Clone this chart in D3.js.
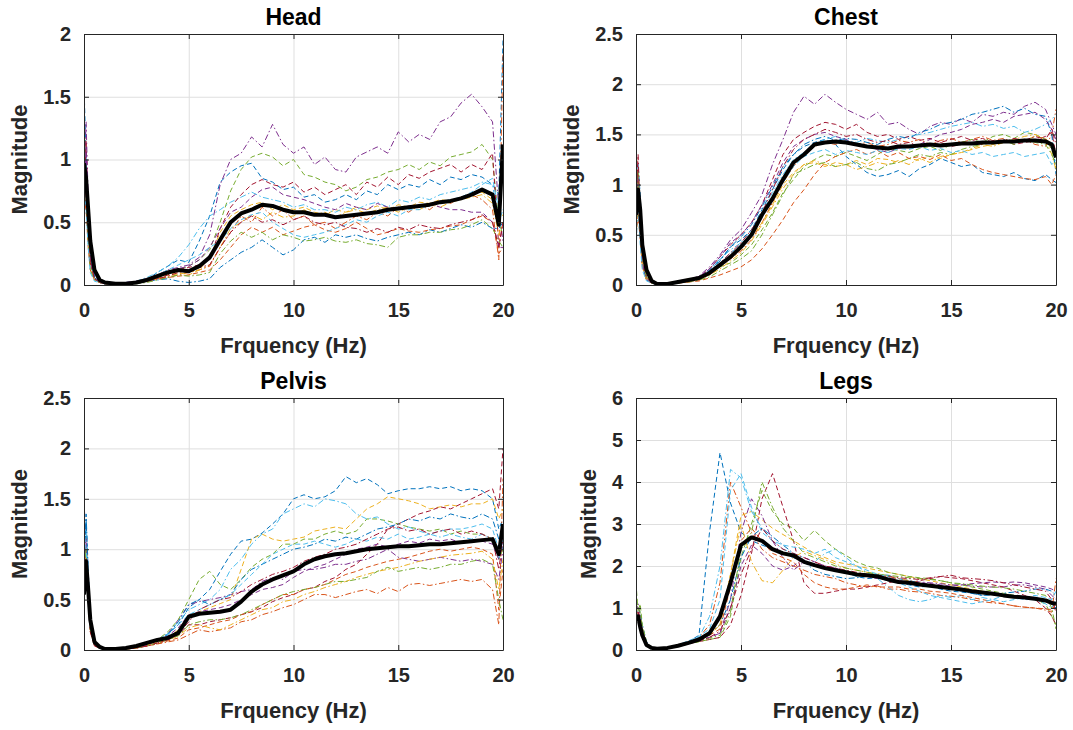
<!DOCTYPE html>
<html>
<head>
<meta charset="utf-8">
<script src="https://cdn.jsdelivr.net/npm/d3@7"></script>
<style>
body { margin: 0; background: #fff; }
svg text { font-family: "Liberation Sans", Arial, Helvetica, sans-serif; }
</style>
</head>
<body>
<div id="chart"></div>
<script>
// frequency grid (Hz), shared by every trace
const freq = [0, 0.1, 0.2, 0.3, 0.5, 0.75, 1, 1.5, 2, 2.5, 3, 3.5, 4, 4.5, 5, 5.5, 6, 6.5, 7, 7.5, 8, 8.5, 9, 9.5,
  10, 10.5, 11, 11.5, 12, 12.5, 13, 13.5, 14, 14.5, 15, 15.5, 16, 16.5, 17, 17.5, 18, 18.5, 19, 19.5, 19.8, 20];

// tick labels
const freqTicks = [0, 5, 10, 15, 20];
const headTicks = [0, 0.5, 1, 1.5, 2];
const chestTicks = [0, 0.5, 1, 1.5, 2, 2.5];
const pelvisTicks = [0, 0.5, 1, 1.5, 2, 2.5];
const legsTicks = [0, 1, 2, 3, 4, 5, 6];

//---------------- Head ----------------
const headMean = [0.97, 0.85, 0.6, 0.35, 0.12, 0.04, 0.02, 0.01, 0.01, 0.02, 0.04, 0.07, 0.1, 0.12, 0.11, 0.15, 0.22, 0.36,
  0.5, 0.57, 0.6, 0.64, 0.63, 0.6, 0.58, 0.58, 0.56, 0.56, 0.54, 0.55, 0.56, 0.57, 0.58, 0.6, 0.61, 0.62,
  0.63, 0.64, 0.66, 0.67, 0.69, 0.72, 0.76, 0.72, 0.48, 1.12];
const headSeries = [
  [1.6, 1.0, 0.5, 0.2, 0.06, 0.02, 0.01, 0.01, 0.02, 0.02, 0.04, 0.1, 0.15, 0.2, 0.18, 0.35, 0.55, 0.82, 0.9, 0.95, 0.97, 0.85, 0.82, 0.76, 0.78, 0.7, 0.72, 0.66, 0.68, 0.72, 0.68, 0.75, 0.72, 0.8, 0.76, 0.8, 0.78, 0.84, 0.8, 0.86, 0.84, 0.88, 0.86, 0.8, 0.72, 1.95],
  [0.5, 0.7, 0.4, 0.15, 0.04, 0.02, 0.01, 0.01, 0.01, 0.02, 0.03, 0.05, 0.06, 0.08, 0.1, 0.12, 0.15, 0.3, 0.42, 0.55, 0.5, 0.62, 0.55, 0.6, 0.52, 0.55, 0.48, 0.5, 0.45, 0.5, 0.55, 0.52, 0.58, 0.55, 0.62, 0.58, 0.64, 0.6, 0.67, 0.65, 0.7, 0.72, 0.68, 0.6, 0.2, 1.85],
  [1.0, 0.9, 0.5, 0.2, 0.05, 0.02, 0.01, 0.01, 0.01, 0.02, 0.04, 0.06, 0.08, 0.1, 0.08, 0.12, 0.22, 0.42, 0.55, 0.6, 0.64, 0.66, 0.6, 0.64, 0.6, 0.62, 0.58, 0.56, 0.6, 0.58, 0.62, 0.6, 0.63, 0.6, 0.64, 0.62, 0.66, 0.65, 0.68, 0.67, 0.7, 0.72, 0.74, 0.68, 0.6, 0.55],
  [0.8, 1.3, 0.7, 0.25, 0.06, 0.03, 0.02, 0.01, 0.02, 0.03, 0.05, 0.08, 0.12, 0.14, 0.16, 0.22, 0.4, 0.8, 1.0, 1.05, 1.18, 1.1, 1.28, 1.12, 1.05, 1.1, 0.96, 1.02, 0.92, 0.9, 1.02, 1.06, 1.1, 1.05, 1.22, 1.14, 1.2, 1.16, 1.3, 1.34, 1.45, 1.52, 1.42, 1.3, 0.6, 0.35],
  [1.3, 0.9, 0.4, 0.15, 0.05, 0.02, 0.01, 0.01, 0.01, 0.02, 0.03, 0.06, 0.09, 0.12, 0.15, 0.2, 0.28, 0.5, 0.75, 0.92, 1.02, 1.05, 1.02, 0.95, 1.0, 0.88, 0.86, 0.82, 0.8, 0.75, 0.78, 0.84, 0.86, 0.9, 0.92, 0.96, 0.92, 0.98, 0.95, 1.02, 1.04, 1.06, 1.12, 1.0, 0.5, 0.4],
  [1.1, 0.8, 0.4, 0.18, 0.05, 0.02, 0.01, 0.01, 0.02, 0.03, 0.06, 0.1, 0.15, 0.22, 0.32, 0.45, 0.55, 0.6, 0.66, 0.7, 0.74, 0.7, 0.68, 0.66, 0.62, 0.64, 0.6, 0.6, 0.58, 0.62, 0.6, 0.64, 0.66, 0.62, 0.68, 0.66, 0.7, 0.68, 0.72, 0.74, 0.76, 0.78, 0.82, 0.8, 0.5, 0.6],
  [0.6, 1.15, 0.6, 0.2, 0.05, 0.02, 0.01, 0.01, 0.01, 0.02, 0.03, 0.05, 0.08, 0.12, 0.14, 0.16, 0.2, 0.45, 0.62, 0.72, 0.8, 0.84, 0.8, 0.78, 0.82, 0.74, 0.78, 0.72, 0.76, 0.8, 0.72, 0.82, 0.78, 0.86, 0.8, 0.88, 0.85, 0.9, 0.93, 0.96, 0.9, 0.96, 0.92, 1.05, 0.3, 0.5],
  [0.9, 1.0, 0.6, 0.25, 0.07, 0.02, 0.01, 0.01, 0.01, 0.02, 0.03, 0.04, 0.05, 0.03, 0.02, 0.03, 0.05, 0.14, 0.2, 0.26, 0.3, 0.36, 0.3, 0.24, 0.28, 0.36, 0.38, 0.34, 0.4, 0.38, 0.4, 0.37, 0.35, 0.38, 0.4, 0.42, 0.4, 0.44, 0.42, 0.45, 0.48, 0.46, 0.5, 0.45, 0.45, 0.5],
  [0.7, 0.6, 0.3, 0.12, 0.04, 0.02, 0.01, 0.01, 0.01, 0.02, 0.03, 0.05, 0.06, 0.07, 0.08, 0.1, 0.12, 0.2, 0.3, 0.4, 0.46, 0.42, 0.46, 0.4, 0.43, 0.46, 0.48, 0.44, 0.42, 0.45, 0.5, 0.45, 0.4, 0.42, 0.45, 0.43, 0.42, 0.44, 0.45, 0.47, 0.48, 0.52, 0.55, 0.5, 0.25, 0.3],
  [0.6, 0.8, 0.45, 0.15, 0.04, 0.02, 0.01, 0.01, 0.01, 0.02, 0.03, 0.05, 0.07, 0.09, 0.1, 0.12, 0.16, 0.3, 0.45, 0.5, 0.56, 0.52, 0.58, 0.54, 0.55, 0.6, 0.56, 0.58, 0.54, 0.58, 0.6, 0.57, 0.6, 0.62, 0.58, 0.62, 0.6, 0.64, 0.62, 0.66, 0.68, 0.7, 0.72, 0.65, 0.4, 0.5],
  [0.7, 1.1, 0.55, 0.2, 0.05, 0.02, 0.01, 0.01, 0.02, 0.03, 0.05, 0.08, 0.1, 0.13, 0.15, 0.2, 0.3, 0.45, 0.58, 0.62, 0.7, 0.76, 0.78, 0.72, 0.7, 0.68, 0.65, 0.62, 0.6, 0.65, 0.62, 0.6, 0.65, 0.62, 0.6, 0.63, 0.62, 0.65, 0.62, 0.6, 0.6, 0.58, 0.58, 0.5, 0.3, 0.3],
  [0.9, 0.7, 0.35, 0.12, 0.04, 0.02, 0.01, 0.01, 0.01, 0.01, 0.02, 0.04, 0.06, 0.08, 0.07, 0.08, 0.1, 0.25, 0.35, 0.42, 0.38, 0.42, 0.36, 0.4, 0.38, 0.35, 0.36, 0.38, 0.35, 0.34, 0.36, 0.33, 0.32, 0.3, 0.38, 0.4, 0.4, 0.42, 0.42, 0.44, 0.45, 0.48, 0.52, 0.45, 0.35, 0.3],
  [0.8, 0.6, 0.3, 0.1, 0.03, 0.02, 0.01, 0.01, 0.01, 0.02, 0.04, 0.08, 0.12, 0.16, 0.2, 0.24, 0.3, 0.35, 0.45, 0.52, 0.56, 0.58, 0.5, 0.45, 0.4, 0.38, 0.4, 0.42, 0.45, 0.48, 0.52, 0.5, 0.55, 0.58, 0.55, 0.6, 0.6, 0.64, 0.66, 0.68, 0.7, 0.74, 0.8, 0.85, 0.6, 0.6],
  [0.5, 0.9, 0.5, 0.18, 0.05, 0.02, 0.01, 0.01, 0.01, 0.02, 0.03, 0.05, 0.07, 0.1, 0.12, 0.14, 0.16, 0.3, 0.42, 0.5, 0.55, 0.5, 0.52, 0.48, 0.52, 0.55, 0.5, 0.48, 0.5, 0.46, 0.45, 0.42, 0.45, 0.42, 0.46, 0.44, 0.48, 0.46, 0.45, 0.48, 0.5, 0.52, 0.56, 0.5, 0.3, 0.5]
];

//---------------- Chest ----------------
const chestMean = [0.7, 0.95, 0.75, 0.4, 0.15, 0.04, 0.01, 0.01, 0.03, 0.05, 0.07, 0.12, 0.2, 0.28, 0.38, 0.5, 0.7, 0.86,
  1.05, 1.22, 1.3, 1.4, 1.42, 1.43, 1.42, 1.4, 1.38, 1.37, 1.36, 1.38, 1.38, 1.39, 1.4, 1.39, 1.4, 1.41,
  1.41, 1.42, 1.42, 1.43, 1.43, 1.44, 1.44, 1.43, 1.4, 1.27];
const chestSeries = [
  [0.2, 1.2, 0.9, 0.4, 0.1, 0.03, 0.01, 0.01, 0.03, 0.05, 0.08, 0.15, 0.25, 0.38, 0.45, 0.55, 0.75, 0.95, 1.15, 1.3, 1.38, 1.42, 1.45, 1.4, 1.28, 1.2, 1.12, 1.08, 1.1, 1.14, 1.08, 1.16, 1.2, 1.26, 1.22, 1.18, 1.2, 1.12, 1.1, 1.08, 1.12, 1.06, 1.04, 1.1, 1.05, 1.02],
  [1.4, 1.0, 0.6, 0.25, 0.06, 0.02, 0.01, 0.01, 0.02, 0.03, 0.05, 0.1, 0.18, 0.26, 0.34, 0.45, 0.62, 0.82, 1.02, 1.18, 1.3, 1.38, 1.42, 1.4, 1.44, 1.4, 1.42, 1.38, 1.4, 1.44, 1.42, 1.45, 1.4, 1.44, 1.46, 1.42, 1.45, 1.48, 1.44, 1.46, 1.42, 1.45, 1.4, 1.38, 1.5, 1.75],
  [0.9, 1.0, 0.6, 0.3, 0.08, 0.03, 0.01, 0.02, 0.04, 0.06, 0.08, 0.12, 0.2, 0.28, 0.36, 0.48, 0.62, 0.8, 1.0, 1.12, 1.2, 1.22, 1.18, 1.22, 1.2, 1.24, 1.2, 1.26, 1.25, 1.22, 1.26, 1.24, 1.28, 1.26, 1.3, 1.32, 1.35, 1.38, 1.4, 1.42, 1.45, 1.44, 1.48, 1.46, 1.4, 1.3],
  [1.2, 0.9, 0.5, 0.2, 0.05, 0.02, 0.01, 0.02, 0.03, 0.05, 0.09, 0.18, 0.3, 0.45, 0.55, 0.72, 0.9, 1.2, 1.45, 1.72, 1.88, 1.8, 1.9, 1.82, 1.75, 1.7, 1.65, 1.72, 1.6, 1.62, 1.55, 1.5, 1.58, 1.62, 1.6, 1.66, 1.62, 1.7, 1.68, 1.72, 1.7, 1.78, 1.82, 1.75, 1.6, 1.5],
  [1.0, 1.1, 0.7, 0.3, 0.08, 0.03, 0.01, 0.01, 0.02, 0.04, 0.06, 0.1, 0.18, 0.22, 0.3, 0.4, 0.55, 0.72, 0.92, 1.05, 1.18, 1.25, 1.3, 1.28, 1.32, 1.28, 1.24, 1.3, 1.36, 1.34, 1.32, 1.36, 1.38, 1.34, 1.4, 1.42, 1.45, 1.42, 1.48, 1.5, 1.46, 1.52, 1.5, 1.45, 1.35, 1.15],
  [0.6, 1.0, 0.55, 0.2, 0.05, 0.02, 0.01, 0.01, 0.03, 0.05, 0.08, 0.15, 0.26, 0.35, 0.42, 0.55, 0.72, 0.92, 1.1, 1.25, 1.32, 1.4, 1.45, 1.48, 1.44, 1.42, 1.46, 1.44, 1.42, 1.45, 1.48, 1.5, 1.52, 1.55, 1.58, 1.6, 1.62, 1.58, 1.6, 1.56, 1.58, 1.52, 1.55, 1.6, 1.65, 1.7],
  [1.3, 1.0, 0.6, 0.22, 0.06, 0.02, 0.01, 0.01, 0.03, 0.05, 0.08, 0.16, 0.28, 0.4, 0.5, 0.62, 0.8, 1.05, 1.3, 1.45, 1.52, 1.58, 1.62, 1.6, 1.55, 1.6, 1.52, 1.48, 1.5, 1.45, 1.48, 1.44, 1.46, 1.42, 1.45, 1.48, 1.44, 1.46, 1.42, 1.45, 1.4, 1.42, 1.44, 1.48, 1.52, 1.3],
  [0.9, 0.8, 0.5, 0.2, 0.05, 0.02, 0.01, 0.01, 0.02, 0.04, 0.07, 0.14, 0.24, 0.38, 0.48, 0.6, 0.78, 0.98, 1.18, 1.3, 1.4, 1.45, 1.48, 1.44, 1.46, 1.45, 1.42, 1.4, 1.45, 1.48, 1.46, 1.52, 1.55, 1.6, 1.62, 1.65, 1.7, 1.72, 1.75, 1.78, 1.72, 1.76, 1.7, 1.68, 1.5, 1.1],
  [0.5, 0.7, 0.45, 0.18, 0.05, 0.02, 0.01, 0.01, 0.02, 0.03, 0.04, 0.07, 0.1, 0.14, 0.18, 0.25, 0.36, 0.5, 0.65, 0.82, 0.95, 1.1, 1.22, 1.28, 1.32, 1.35, 1.3, 1.34, 1.28, 1.32, 1.26, 1.28, 1.25, 1.3, 1.24, 1.26, 1.2, 1.15, 1.12, 1.1, 1.08, 1.06, 1.05, 1.08, 1.0, 1.1],
  [1.1, 0.9, 0.5, 0.2, 0.05, 0.02, 0.01, 0.01, 0.02, 0.04, 0.06, 0.1, 0.16, 0.24, 0.32, 0.44, 0.6, 0.78, 0.96, 1.1, 1.2, 1.24, 1.2, 1.18, 1.2, 1.15, 1.18, 1.22, 1.2, 1.24, 1.2, 1.26, 1.22, 1.28, 1.3, 1.32, 1.36, 1.4, 1.38, 1.42, 1.45, 1.48, 1.5, 1.45, 1.3, 1.15],
  [0.8, 1.1, 0.6, 0.22, 0.06, 0.02, 0.01, 0.01, 0.03, 0.05, 0.08, 0.16, 0.28, 0.42, 0.5, 0.62, 0.8, 1.0, 1.22, 1.38, 1.45, 1.5, 1.52, 1.48, 1.45, 1.4, 1.38, 1.35, 1.32, 1.36, 1.38, 1.4, 1.45, 1.5, 1.52, 1.55, 1.6, 1.62, 1.65, 1.62, 1.68, 1.7, 1.72, 1.65, 1.55, 1.45],
  [0.3, 1.15, 0.7, 0.28, 0.07, 0.02, 0.01, 0.01, 0.02, 0.03, 0.05, 0.08, 0.14, 0.2, 0.26, 0.34, 0.5, 0.7, 0.9, 1.1, 1.15, 1.2, 1.22, 1.18, 1.2, 1.22, 1.16, 1.14, 1.2, 1.22, 1.26, 1.3, 1.28, 1.32, 1.3, 1.35, 1.38, 1.4, 1.42, 1.44, 1.4, 1.45, 1.42, 1.4, 1.3, 1.2],
  [1.0, 0.8, 0.4, 0.15, 0.04, 0.02, 0.01, 0.02, 0.03, 0.05, 0.07, 0.12, 0.22, 0.32, 0.4, 0.52, 0.68, 0.85, 1.02, 1.18, 1.28, 1.32, 1.35, 1.3, 1.34, 1.32, 1.3, 1.34, 1.32, 1.36, 1.35, 1.38, 1.34, 1.36, 1.32, 1.34, 1.3, 1.32, 1.28, 1.3, 1.32, 1.28, 1.3, 1.32, 1.2, 1.25],
  [0.8, 1.3, 0.7, 0.3, 0.08, 0.02, 0.01, 0.01, 0.02, 0.04, 0.07, 0.12, 0.22, 0.32, 0.42, 0.55, 0.72, 0.95, 1.18, 1.35, 1.45, 1.5, 1.55, 1.52, 1.48, 1.5, 1.45, 1.42, 1.44, 1.4, 1.42, 1.38, 1.4, 1.42, 1.38, 1.4, 1.42, 1.4, 1.44, 1.42, 1.46, 1.44, 1.48, 1.45, 1.55, 1.4]
];

//---------------- Pelvis ----------------
const pelvisMean = [0.55, 0.88, 0.6, 0.3, 0.08, 0.03, 0.01, 0.01, 0.02, 0.04, 0.07, 0.1, 0.12, 0.17, 0.33, 0.36, 0.37, 0.38,
  0.4, 0.48, 0.58, 0.65, 0.7, 0.74, 0.78, 0.85, 0.9, 0.93, 0.95, 0.96, 0.98, 1.0, 1.01, 1.02, 1.03, 1.03,
  1.04, 1.05, 1.05, 1.06, 1.07, 1.08, 1.09, 1.1, 0.95, 1.25];
const pelvisSeries = [
  [0.9, 1.3, 0.8, 0.3, 0.06, 0.02, 0.01, 0.01, 0.02, 0.04, 0.06, 0.1, 0.16, 0.25, 0.42, 0.5, 0.6, 0.78, 0.95, 1.08, 1.1, 1.16, 1.25, 1.35, 1.5, 1.54, 1.5, 1.52, 1.58, 1.72, 1.66, 1.7, 1.64, 1.55, 1.58, 1.6, 1.6, 1.62, 1.6, 1.62, 1.58, 1.6, 1.58, 1.5, 1.2, 1.3],
  [0.6, 1.0, 0.6, 0.2, 0.05, 0.02, 0.01, 0.01, 0.01, 0.02, 0.04, 0.06, 0.08, 0.1, 0.15, 0.2, 0.18, 0.2, 0.22, 0.28, 0.3, 0.35, 0.38, 0.42, 0.45, 0.5, 0.55, 0.55, 0.52, 0.55, 0.58, 0.6, 0.56, 0.62, 0.58, 0.65, 0.66, 0.64, 0.66, 0.68, 0.7, 0.68, 0.7, 0.6, 0.25, 1.7],
  [1.2, 1.1, 0.7, 0.25, 0.05, 0.02, 0.01, 0.01, 0.02, 0.03, 0.05, 0.08, 0.12, 0.2, 0.35, 0.38, 0.42, 0.46, 0.5, 0.8, 1.1, 1.15, 1.1, 1.08, 1.1, 1.12, 1.18, 1.2, 1.22, 1.2, 1.3, 1.4, 1.45, 1.52, 1.5, 1.48, 1.45, 1.4, 1.42, 1.44, 1.42, 1.45, 1.45, 1.5, 1.3, 1.4],
  [1.5, 1.0, 0.6, 0.2, 0.05, 0.02, 0.01, 0.01, 0.02, 0.03, 0.06, 0.1, 0.16, 0.3, 0.45, 0.48, 0.5, 0.52, 0.55, 0.58, 0.6, 0.68, 0.72, 0.7, 0.78, 0.8, 0.8, 0.82, 0.85, 0.85, 0.88, 0.9, 0.95, 1.0, 0.92, 0.9, 0.88, 0.9, 0.92, 0.9, 0.88, 0.9, 0.88, 0.85, 0.7, 1.0],
  [1.1, 0.9, 0.5, 0.2, 0.05, 0.02, 0.01, 0.01, 0.02, 0.04, 0.06, 0.1, 0.18, 0.3, 0.5, 0.7, 0.78, 0.65, 0.6, 0.7, 0.82, 0.9, 0.95, 1.05, 1.05, 1.1, 1.1, 1.15, 1.18, 1.15, 1.18, 1.3, 1.3, 1.28, 1.25, 1.22, 1.2, 1.18, 1.2, 1.15, 1.18, 1.15, 1.15, 1.1, 0.9, 1.0],
  [1.3, 1.2, 0.7, 0.25, 0.06, 0.02, 0.01, 0.01, 0.02, 0.04, 0.06, 0.1, 0.16, 0.28, 0.4, 0.45, 0.5, 0.6, 0.8, 0.9, 1.05, 1.15, 1.2, 1.35, 1.4, 1.45, 1.42, 1.5, 1.48, 1.45, 1.35, 1.3, 1.32, 1.25, 1.2, 1.22, 1.18, 1.15, 1.12, 1.15, 1.12, 1.1, 1.15, 1.1, 0.9, 1.1],
  [0.8, 1.0, 0.6, 0.2, 0.05, 0.02, 0.01, 0.01, 0.01, 0.02, 0.04, 0.07, 0.1, 0.15, 0.25, 0.25, 0.28, 0.3, 0.32, 0.35, 0.38, 0.42, 0.48, 0.52, 0.55, 0.6, 0.62, 0.68, 0.72, 0.8, 0.85, 0.95, 1.05, 1.2, 1.25, 1.3, 1.35, 1.38, 1.42, 1.4, 1.45, 1.5, 1.55, 1.6, 1.4, 2.0],
  [0.7, 1.35, 0.8, 0.3, 0.06, 0.02, 0.01, 0.01, 0.02, 0.03, 0.06, 0.1, 0.15, 0.28, 0.45, 0.5, 0.45, 0.5, 0.55, 0.7, 0.8, 0.85, 0.9, 0.95, 1.0, 1.02, 1.05, 1.1, 1.08, 1.12, 1.1, 1.15, 1.2, 1.22, 1.25, 1.3, 1.28, 1.32, 1.3, 1.35, 1.32, 1.3, 1.35, 1.3, 1.1, 1.0],
  [0.9, 0.8, 0.5, 0.18, 0.04, 0.02, 0.01, 0.01, 0.01, 0.02, 0.04, 0.06, 0.09, 0.12, 0.2, 0.22, 0.25, 0.28, 0.3, 0.35, 0.38, 0.45, 0.5, 0.55, 0.55, 0.6, 0.62, 0.65, 0.7, 0.75, 0.78, 0.82, 0.85, 0.88, 0.9, 0.92, 0.95, 0.98, 1.0, 0.98, 1.0, 1.02, 1.0, 0.95, 0.4, 0.8],
  [1.0, 0.9, 0.5, 0.2, 0.05, 0.02, 0.01, 0.01, 0.02, 0.03, 0.05, 0.08, 0.1, 0.14, 0.22, 0.25, 0.22, 0.2, 0.25, 0.3, 0.35, 0.4, 0.42, 0.48, 0.5, 0.55, 0.58, 0.62, 0.65, 0.68, 0.72, 0.75, 0.78, 0.8, 0.82, 0.85, 0.88, 0.9, 0.92, 0.94, 0.95, 0.96, 0.98, 0.9, 0.6, 0.9],
  [0.9, 1.1, 0.6, 0.22, 0.05, 0.02, 0.01, 0.01, 0.02, 0.03, 0.05, 0.09, 0.14, 0.22, 0.35, 0.38, 0.4, 0.42, 0.45, 0.5, 0.55, 0.6, 0.62, 0.65, 0.72, 0.78, 0.82, 0.85, 0.9, 0.95, 1.0, 1.02, 1.05, 1.02, 1.05, 1.08, 1.06, 1.1, 1.08, 1.1, 1.06, 1.1, 1.08, 1.05, 0.9, 1.1],
  [0.8, 1.0, 0.55, 0.2, 0.05, 0.02, 0.01, 0.01, 0.01, 0.02, 0.04, 0.07, 0.1, 0.14, 0.25, 0.28, 0.3, 0.3, 0.32, 0.35, 0.4, 0.45, 0.5, 0.55, 0.58, 0.6, 0.62, 0.65, 0.68, 0.68, 0.7, 0.72, 0.78, 0.82, 0.78, 0.8, 0.82, 0.8, 0.82, 0.85, 0.85, 0.88, 0.9, 0.85, 0.5, 0.3],
  [1.2, 1.0, 0.6, 0.22, 0.05, 0.02, 0.01, 0.01, 0.02, 0.03, 0.06, 0.1, 0.15, 0.25, 0.35, 0.4, 0.45, 0.5, 0.55, 0.65, 0.75, 0.85, 0.95, 1.0, 1.05, 1.05, 1.08, 1.05, 1.02, 1.05, 1.1, 1.08, 1.12, 1.1, 1.15, 1.1, 1.12, 1.15, 1.18, 1.2, 1.2, 1.22, 1.25, 1.2, 1.0, 1.15],
  [0.5, 0.9, 0.5, 0.18, 0.04, 0.02, 0.01, 0.01, 0.01, 0.02, 0.04, 0.07, 0.1, 0.16, 0.28, 0.4, 0.45, 0.5, 0.52, 0.58, 0.65, 0.7, 0.75, 0.78, 0.82, 0.88, 0.92, 0.95, 1.0, 1.02, 1.05, 1.1, 1.15, 1.2, 1.22, 1.18, 1.2, 1.15, 1.18, 1.2, 1.15, 1.18, 1.15, 1.1, 0.8, 1.1]
];

//---------------- Legs ----------------
const legsMean = [0.7, 0.8, 0.55, 0.35, 0.12, 0.05, 0.03, 0.05, 0.1, 0.17, 0.25, 0.4, 0.8, 1.6, 2.5, 2.68, 2.6, 2.4,
  2.3, 2.25, 2.1, 2.02, 1.95, 1.9, 1.85, 1.8, 1.78, 1.75, 1.68, 1.62, 1.6, 1.56, 1.53, 1.5, 1.47, 1.44,
  1.4, 1.37, 1.34, 1.3, 1.27, 1.25, 1.22, 1.18, 1.12, 1.1];
const legsSeries = [
  [1.2, 1.0, 0.9, 0.6, 0.2, 0.05, 0.03, 0.06, 0.12, 0.2, 0.35, 2.8, 4.7, 3.5, 2.8, 2.6, 2.5, 2.4, 2.3, 2.2, 2.1, 2.0, 1.95, 1.9, 1.85, 1.75, 1.7, 1.72, 1.65, 1.6, 1.55, 1.5, 1.52, 1.45, 1.4, 1.38, 1.35, 1.3, 1.32, 1.28, 1.25, 1.22, 1.2, 1.15, 1.1, 1.0],
  [1.0, 0.8, 0.7, 0.5, 0.15, 0.04, 0.03, 0.05, 0.1, 0.18, 0.3, 0.6, 1.6, 4.0, 3.4, 2.8, 2.4, 2.2, 2.1, 2.0, 1.9, 1.8, 1.75, 1.7, 1.6, 1.55, 1.5, 1.52, 1.45, 1.45, 1.4, 1.38, 1.35, 1.3, 1.28, 1.25, 1.2, 1.15, 1.12, 1.1, 1.05, 1.02, 1.0, 0.95, 0.9, 1.7],
  [0.8, 0.9, 0.7, 0.4, 0.12, 0.04, 0.03, 0.05, 0.1, 0.16, 0.22, 0.35, 0.6, 1.8, 3.2, 3.3, 3.1, 2.9, 2.75, 2.6, 2.45, 2.3, 2.2, 2.1, 2.05, 2.0, 1.95, 1.9, 1.85, 1.8, 1.75, 1.7, 1.65, 1.6, 1.55, 1.5, 1.45, 1.4, 1.35, 1.3, 1.28, 1.25, 1.22, 1.2, 1.1, 1.0],
  [0.9, 1.1, 0.8, 0.5, 0.15, 0.04, 0.03, 0.05, 0.1, 0.16, 0.24, 0.3, 0.4, 1.2, 2.8, 3.6, 3.2, 2.6, 2.2, 1.9, 2.1, 2.05, 2.0, 1.95, 1.85, 1.8, 1.78, 1.75, 1.7, 1.7, 1.65, 1.62, 1.6, 1.58, 1.55, 1.55, 1.52, 1.5, 1.5, 1.5, 1.55, 1.55, 1.5, 1.45, 1.3, 1.2],
  [1.6, 0.9, 1.1, 0.6, 0.2, 0.05, 0.03, 0.05, 0.1, 0.15, 0.2, 0.25, 0.3, 0.8, 2.2, 3.0, 3.8, 3.3, 3.0, 2.9, 2.6, 2.85, 2.6, 2.4, 2.25, 2.1, 2.0, 1.95, 1.85, 1.8, 1.75, 1.72, 1.7, 1.65, 1.6, 1.55, 1.5, 1.45, 1.4, 1.35, 1.3, 1.25, 1.2, 1.1, 0.8, 0.6],
  [1.0, 0.8, 0.6, 0.4, 0.12, 0.04, 0.03, 0.06, 0.12, 0.2, 0.3, 0.8, 2.0, 4.3, 4.1, 3.3, 2.9, 2.6, 2.4, 2.3, 2.2, 2.1, 2.3, 2.4, 2.2, 2.0, 1.85, 1.7, 1.5, 1.3, 1.2, 1.15, 1.2, 1.3, 1.25, 1.3, 1.2, 1.25, 1.2, 1.3, 1.25, 1.2, 1.2, 1.1, 1.0, 1.2],
  [0.7, 0.9, 0.8, 0.5, 0.15, 0.04, 0.03, 0.05, 0.1, 0.15, 0.2, 0.25, 0.3, 0.6, 1.3, 2.3, 3.6, 4.2, 3.4, 2.6, 1.6, 1.35, 1.35, 1.4, 1.45, 1.45, 1.5, 1.55, 1.6, 1.65, 1.6, 1.65, 1.7, 1.75, 1.72, 1.7, 1.65, 1.6, 1.55, 1.5, 1.4, 1.3, 1.2, 1.0, 0.8, 0.6],
  [0.9, 0.7, 0.6, 0.4, 0.12, 0.04, 0.03, 0.05, 0.1, 0.18, 0.25, 0.4, 0.6, 1.2, 2.2, 2.7, 2.9, 2.7, 2.5, 2.3, 2.1, 1.9, 1.8, 1.75, 1.7, 1.72, 1.75, 1.8, 1.78, 1.7, 1.65, 1.6, 1.55, 1.5, 1.45, 1.4, 1.35, 1.3, 1.32, 1.35, 1.38, 1.4, 1.45, 1.45, 1.4, 1.3],
  [0.8, 0.9, 0.7, 0.45, 0.14, 0.04, 0.03, 0.05, 0.1, 0.16, 0.25, 0.35, 0.5, 1.5, 2.6, 2.9, 2.6, 2.3, 2.2, 2.1, 1.8, 1.6, 1.5, 1.45, 1.45, 1.5, 1.55, 1.5, 1.5, 1.5, 1.45, 1.45, 1.4, 1.38, 1.35, 1.3, 1.25, 1.2, 1.15, 1.1, 1.05, 1.02, 1.0, 0.98, 0.95, 1.1],
  [0.7, 0.8, 0.6, 0.4, 0.12, 0.04, 0.03, 0.05, 0.1, 0.16, 0.25, 0.38, 0.6, 1.8, 3.0, 2.1, 1.65, 1.6, 1.9, 2.2, 2.35, 2.25, 2.15, 2.05, 1.95, 1.9, 1.85, 1.82, 1.75, 1.7, 1.65, 1.6, 1.55, 1.5, 1.45, 1.42, 1.4, 1.35, 1.32, 1.3, 1.28, 1.25, 1.22, 1.2, 1.15, 1.1],
  [1.1, 0.9, 0.7, 0.45, 0.14, 0.04, 0.03, 0.05, 0.1, 0.15, 0.22, 0.3, 0.4, 1.0, 2.0, 2.5, 2.3, 2.0, 1.9, 2.0, 2.2, 2.1, 2.0, 1.95, 1.85, 1.8, 1.75, 1.7, 1.68, 1.65, 1.62, 1.6, 1.58, 1.55, 1.52, 1.55, 1.58, 1.6, 1.62, 1.6, 1.62, 1.6, 1.55, 1.5, 1.45, 1.4],
  [1.3, 1.0, 0.9, 0.5, 0.15, 0.04, 0.03, 0.05, 0.09, 0.14, 0.2, 0.28, 0.35, 0.9, 2.4, 2.8, 4.0, 3.4, 2.9, 2.6, 2.3, 2.2, 2.1, 2.0, 1.95, 1.9, 1.85, 1.8, 1.78, 1.75, 1.72, 1.7, 1.68, 1.65, 1.6, 1.58, 1.55, 1.52, 1.5, 1.48, 1.45, 1.4, 1.35, 1.3, 1.0, 0.5],
  [0.9, 0.8, 0.6, 0.35, 0.1, 0.04, 0.03, 0.06, 0.12, 0.22, 0.32, 0.5, 1.2, 3.8, 4.2, 3.4, 2.8, 2.6, 2.5, 2.45, 2.4, 2.3, 2.4, 2.2, 2.1, 2.0, 1.9, 1.8, 1.75, 1.6, 1.5, 1.4, 1.3, 1.25, 1.2, 1.15, 1.1, 1.15, 1.2, 1.15, 1.2, 1.25, 1.3, 1.25, 1.2, 1.4],
  [0.6, 0.9, 0.7, 0.4, 0.12, 0.04, 0.03, 0.05, 0.1, 0.15, 0.22, 0.3, 0.45, 1.0, 1.8, 2.4, 2.9, 2.6, 2.4, 2.3, 2.2, 2.1, 2.0, 1.95, 1.9, 1.85, 1.8, 1.78, 1.75, 1.72, 1.7, 1.68, 1.72, 1.75, 1.78, 1.72, 1.7, 1.68, 1.65, 1.6, 1.55, 1.5, 1.45, 1.4, 1.2, 0.9]
];

// MATLAB default colour order, dashed and dash-dot styles
const palette = ['#0072BD', '#D95319', '#EDB120', '#7E2F8E', '#77AC30', '#4DBEEE', '#A2142F'];
const dashStyles = ['5,3', '6,2.5,1.5,2.5'];
const fmt = d3.format('~g');
const textColor = '#262626';

const svg = d3.select('#chart').append('svg')
  .attr('width', 1073).attr('height', 730);

const panels = [
  { title: 'Head', series: headSeries, mean: headMean, yMax: 2, yTicks: headTicks, left: 84, top: 34, w: 419, h: 251 },
  { title: 'Chest', series: chestSeries, mean: chestMean, yMax: 2.5, yTicks: chestTicks, left: 636, top: 34, w: 420, h: 251 },
  { title: 'Pelvis', series: pelvisSeries, mean: pelvisMean, yMax: 2.5, yTicks: pelvisTicks, left: 84, top: 398, w: 419, h: 252 },
  { title: 'Legs', series: legsSeries, mean: legsMean, yMax: 6, yTicks: legsTicks, left: 636, top: 398, w: 420, h: 252 }
];

function styleAxis(sel) {
  sel.attr('font-size', 20).attr('font-weight', 'bold')
    .attr('font-family', '"Liberation Sans", Arial, Helvetica, sans-serif');
  sel.selectAll('.domain').attr('stroke', textColor);
  sel.selectAll('.tick line').attr('stroke', textColor);
  sel.selectAll('.tick text').attr('fill', textColor);
}

function drawPanel(p) {
  const g = svg.append('g').attr('transform', `translate(${p.left},${p.top})`);
  const xScale = d3.scaleLinear().domain([0, 20]).range([0, p.w]);
  const yScale = d3.scaleLinear().domain([0, p.yMax]).range([p.h, 0]);

  // grid lines
  g.append('g')
    .call(d3.axisLeft(yScale).tickValues(p.yTicks).tickSize(-p.w).tickFormat(''))
    .call(a => a.select('.domain').remove())
    .selectAll('line').attr('stroke', '#dfdfdf');
  g.append('g').attr('transform', `translate(0,${p.h})`)
    .call(d3.axisBottom(xScale).tickValues(freqTicks).tickSize(-p.h).tickFormat(''))
    .call(a => a.select('.domain').remove())
    .selectAll('line').attr('stroke', '#dfdfdf');

  // traces, clipped to the axes box
  const clipId = 'clip-' + p.title;
  g.append('clipPath').attr('id', clipId)
    .append('rect').attr('width', p.w).attr('height', p.h);

  const line = d3.line()
    .x((d, i) => xScale(freq[i]))
    .y(d => yScale(d));

  const traces = g.append('g').attr('clip-path', `url(#${clipId})`);
  traces.selectAll('.trace').data(p.series).join('path')
    .attr('class', 'trace')
    .attr('d', line)
    .attr('fill', 'none')
    .attr('stroke', (d, i) => palette[i % palette.length])
    .attr('stroke-width', 1)
    .attr('stroke-dasharray', (d, i) => dashStyles[i % 2]);

  traces.append('path').datum(p.mean)
    .attr('d', line)
    .attr('fill', 'none')
    .attr('stroke', '#000')
    .attr('stroke-width', 4)
    .attr('stroke-linejoin', 'round');

  // axes with inward ticks on all four sides
  const yAxis = g.append('g')
    .call(d3.axisLeft(yScale).tickValues(p.yTicks).tickFormat(fmt)
      .tickSizeInner(-5).tickSizeOuter(0).tickPadding(13))
    .call(styleAxis);
  g.append('g').attr('transform', `translate(0,${p.h})`)
    .call(d3.axisBottom(xScale).tickValues(freqTicks).tickFormat(fmt)
      .tickSizeInner(-5).tickSizeOuter(0).tickPadding(18))
    .call(styleAxis);
  g.append('g')
    .call(d3.axisTop(xScale).tickValues(freqTicks).tickFormat('')
      .tickSizeInner(-5).tickSizeOuter(0))
    .call(styleAxis);
  g.append('g').attr('transform', `translate(${p.w},0)`)
    .call(d3.axisRight(yScale).tickValues(p.yTicks).tickFormat('')
      .tickSizeInner(-5).tickSizeOuter(0))
    .call(styleAxis);

  // title
  g.append('text')
    .attr('x', p.w / 2).attr('y', -9)
    .attr('text-anchor', 'middle')
    .style('font-size', '23px').style('font-weight', 'bold').style('fill', '#000')
    .text(p.title);

  // x label
  g.append('text')
    .attr('x', p.w / 2).attr('y', p.h + 68)
    .attr('text-anchor', 'middle')
    .style('font-size', '22px').style('font-weight', 'bold').style('fill', textColor)
    .text('Frquency (Hz)');

  // y label, placed left of the widest tick label
  let minX = 0;
  yAxis.selectAll('.tick text').each(function () {
    minX = Math.min(minX, this.getBBox().x);
  });
  g.append('text')
    .attr('transform', `translate(${minX - 16},${p.h / 2}) rotate(-90)`)
    .attr('text-anchor', 'middle')
    .style('font-size', '22px').style('font-weight', 'bold').style('fill', textColor)
    .text('Magnitude');
}

panels.forEach(drawPanel);
</script>
</body>
</html>
